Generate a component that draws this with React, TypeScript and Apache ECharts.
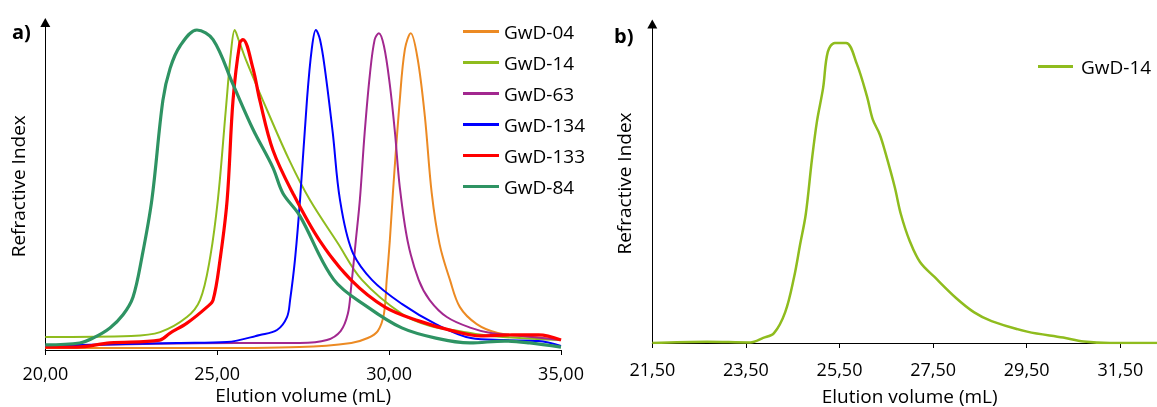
import React, { useEffect, useRef } from "react";
import * as echarts from "echarts";

// ---- Panel a data (x = elution volume mL, y = normalised refractive index) ----
const gwd04 = [[20.0,0.006],[25.0,0.006],[27.4,0.009],[28.9,0.022],[29.38,0.0375],[29.67,0.059],[29.85,0.113],[29.93,0.219],[30.02,0.34],[30.11,0.49],[30.31,0.78],[30.46,0.94],[30.63,0.99],[30.83,0.91],[31.04,0.73],[31.24,0.49],[31.47,0.33],[31.77,0.219],[32.06,0.134],[32.55,0.081],[33.16,0.053],[33.86,0.044],[35.0,0.031]];
const gwd14a = [[20.0,0.041],[22.5,0.044],[23.34,0.056],[24.12,0.103],[24.5,0.156],[24.78,0.28],[25.02,0.47],[25.25,0.75],[25.4,0.93],[25.51,1.0],[25.62,0.97],[25.86,0.9],[26.45,0.75],[27.11,0.59],[27.69,0.47],[28.5,0.335],[29.21,0.219],[30.37,0.113],[31.2,0.075],[32.06,0.059],[32.96,0.044],[35.0,0.031]];
const gwd63 = [[20.0,0.0125],[25.57,0.022],[27.4,0.022],[28.19,0.031],[28.59,0.059],[28.8,0.113],[28.89,0.19],[29.03,0.34],[29.15,0.47],[29.29,0.68],[29.44,0.86],[29.58,0.97],[29.7,0.99],[29.85,0.95],[30.02,0.83],[30.17,0.68],[30.31,0.51],[30.54,0.34],[30.86,0.219],[31.18,0.156],[31.68,0.103],[32.38,0.069],[32.96,0.053],[33.86,0.044],[35.0,0.031]];
const gwd134 = [[20.0,0.013],[23.83,0.022],[25.28,0.025],[26.24,0.047],[26.74,0.0625],[27.03,0.103],[27.12,0.156],[27.26,0.28],[27.41,0.47],[27.61,0.78],[27.75,0.94],[27.87,1.0],[27.99,0.97],[28.13,0.88],[28.36,0.68],[28.57,0.47],[28.92,0.31],[29.5,0.219],[30.37,0.144],[31.36,0.081],[32.38,0.0375],[33.36,0.031],[34.35,0.028],[35.0,0.013]];
const gwd133 = [[20.0,0.009],[20.92,0.009],[21.88,0.022],[23.33,0.031],[23.63,0.053],[24.12,0.084],[24.7,0.134],[24.88,0.156],[25.08,0.28],[25.29,0.47],[25.46,0.78],[25.66,0.96],[25.75,0.97],[26.04,0.88],[26.24,0.78],[26.62,0.625],[27.2,0.49],[27.99,0.34],[28.89,0.219],[29.88,0.134],[30.86,0.091],[31.88,0.059],[32.67,0.044],[33.57,0.047],[34.35,0.047],[35.0,0.031]];
const gwd84 = [[20.0,0.016],[21.0,0.022],[21.4,0.038],[21.88,0.069],[22.26,0.11],[22.55,0.165],[22.81,0.29],[23.1,0.47],[23.42,0.78],[23.63,0.88],[23.92,0.95],[24.41,1.0],[24.88,0.97],[25.46,0.83],[26.04,0.69],[26.62,0.57],[26.91,0.49],[27.4,0.42],[28.39,0.22],[29.38,0.134],[30.37,0.069],[31.36,0.037],[32.35,0.022],[33.36,0.028],[34.09,0.022],[35.0,0.009]];

// ---- Panel b data ----
const gwd14b = [[21.5,0.0],[22.67,0.004],[23.59,0.002],[23.87,0.017],[24.1,0.033],[24.34,0.103],[24.53,0.22],[24.66,0.33],[24.78,0.43],[24.91,0.61],[25.02,0.74],[25.15,0.85],[25.25,0.97],[25.4,1.0],[25.64,1.0],[25.87,0.93],[26.09,0.82],[26.21,0.745],[26.36,0.695],[26.47,0.64],[26.68,0.52],[26.81,0.43],[27.0,0.34],[27.22,0.27],[27.53,0.22],[27.99,0.15],[28.37,0.103],[28.75,0.073],[29.51,0.038],[30.28,0.018],[30.72,0.005],[31.28,0.0],[32.5,0.0]];

// ---- tick labels ----
const ticksA = [20, 25, 30, 35];
const ticksB = [21.5, 23.5, 25.5, 27.5, 29.5, 31.5];

const seriesNamesA = ["GwD-04", "GwD-14", "GwD-63", "GwD-134", "GwD-133", "GwD-84"];
const seriesDataA = [gwd04, gwd14a, gwd63, gwd134, gwd133, gwd84];
const colorsA = ["#EC8A23", "#8FBC1E", "#A2288F", "#0000FF", "#FF0000", "#2E9363"];
const widthsA = [2, 2, 2, 2, 3.2, 3.2];

const FONT = "'Open Sans', sans-serif";
const fmt = (v: number) => v.toFixed(2).replace(".", ",");

export default function App() {
  const ref = useRef<HTMLDivElement>(null);
  useEffect(() => {
    if (!ref.current) return;
    const chart = echarts.init(ref.current, undefined, { renderer: "svg" });
    const axisLine = { lineStyle: { color: "#000", width: 1 } };
    const yAxisCommon = {
      type: "value",
      min: 0,
      axisLabel: { show: false },
      axisTick: { show: false },
      splitLine: { show: false },
      axisLine: { show: true, symbol: ["none", "triangle"], symbolSize: [10, 9], lineStyle: { color: "#000", width: 1 } },
      name: "Refractive Index",
      nameLocation: "middle",
      nameRotate: 90,
      nameTextStyle: { fontFamily: FONT, fontSize: 19, color: "#000" },
    };
    chart.setOption({
      animation: false,
      textStyle: { fontFamily: FONT },
      grid: [
        { left: 45.3, right: 596, top: 22.5, bottom: 57, outerBoundsMode: "none", containLabel: false },
        { left: 652.3, right: -10.1, top: 24, bottom: 64, outerBoundsMode: "none", containLabel: false },
      ],
      xAxis: [
        {
          type: "value", gridIndex: 0, min: 20, max: 35, interval: 5,
          axisLine, splitLine: { show: false },
          axisTick: { show: true, length: 5, lineStyle: { color: "#000" } },
          axisLabel: { margin: 14, fontFamily: FONT, fontSize: 18, color: "#000",
            formatter: (v: number) => (ticksA.some((t) => Math.abs(t - v) < 1e-6) ? fmt(v) : "") },
          name: "Elution volume (mL)", nameLocation: "middle", nameGap: 35, nameMoveOverlap: false,
          nameTextStyle: { fontFamily: FONT, fontSize: 19, color: "#000" },
        },
        {
          type: "value", gridIndex: 1, min: 21.5, max: 32.5, interval: 2,
          axisLine, splitLine: { show: false },
          axisTick: { show: true, length: 5, lineStyle: { color: "#000" } },
          axisLabel: { margin: 17, fontFamily: FONT, fontSize: 18, color: "#000",
            formatter: (v: number) => (ticksB.some((t) => Math.abs(t - v) < 1e-6) ? fmt(v) : "") },
          name: "Elution volume (mL)", nameLocation: "middle", nameGap: 43,
          nameTextStyle: { fontFamily: FONT, fontSize: 19, color: "#000" },
        },
      ],
      yAxis: [
        { ...yAxisCommon, gridIndex: 0, max: 1.0234, nameGap: 18 },
        { ...yAxisCommon, gridIndex: 1, max: 1.063, nameGap: 19 },
      ],
      legend: [
        {
          data: seriesNamesA, orient: "vertical", left: 458, top: 17,
          icon: "rect", itemWidth: 36, itemHeight: 3, itemGap: 12,
          textStyle: { fontFamily: FONT, fontSize: 19, color: "#000" },
        },
        {
          data: ["GwD-14"], orient: "vertical", left: 1033, top: 52,
          icon: "rect", itemWidth: 35, itemHeight: 3,
          textStyle: { fontFamily: FONT, fontSize: 19, color: "#000", padding: [0, 0, 0, 3] },
        },
      ],
      graphic: [
        { type: "text", left: 12, top: 21, style: { text: "a)", font: `bold 20px ${FONT}`, fill: "#000" } },
        { type: "text", left: 614, top: 25, style: { text: "b)", font: `bold 20px ${FONT}`, fill: "#000" } },
      ],
      series: [
        ...seriesNamesA.map((name, i) => ({
          name, type: "line", xAxisIndex: 0, yAxisIndex: 0,
          data: seriesDataA[i], showSymbol: false, smooth: 0.35,
          lineStyle: { color: colorsA[i], width: widthsA[i] }, itemStyle: { color: colorsA[i] },
        })),
        {
          name: "GwD-14", type: "line", xAxisIndex: 1, yAxisIndex: 1,
          data: gwd14b, showSymbol: false, smooth: 0.35,
          lineStyle: { color: "#8FBC1E", width: 2.5 }, itemStyle: { color: "#8FBC1E" },
        },
      ],
    });
    return () => chart.dispose();
  }, []);
  return <div ref={ref} style={{ position: "fixed", left: 0, top: 0, width: 1157, height: 407 }} />;
}
